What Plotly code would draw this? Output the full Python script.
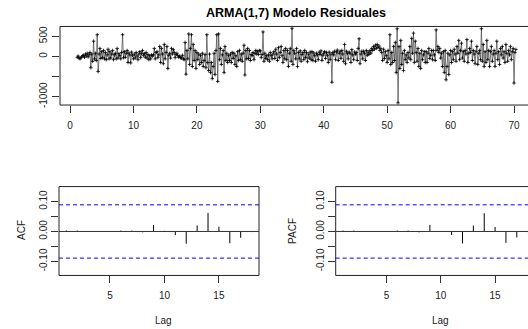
import plotly.graph_objects as go

# ---------------- data ----------------
start_time = 1 + 1/7
frequency = 7
residuals = [
    -20, 10, -40, -60, -30, -10, 20,
    30, -20, 60, 10, 80, -10, 40,
    100, -280, 60, -120, 380, -60, 80,
    -100, 540, -375, 60, 200, -50, 120,
    -30, 150, -60, 100, -80, 40, 180,
    -60, 120, -40, 60, 150, -80, 40,
    80, -60, 200, -40, 70, 20, -60,
    100, 540, -30, 120, -20, 80, 150,
    -150, 90, 40, -160, 110, 30, -60,
    60, -40, 100, 10, -80, 60, 120,
    -30, 80, 150, 30, 70, -20, 100,
    -40, 50, -80, 20, -60, 40, 10,
    40, 200, -60, 100, 120, -30, 40,
    250, -150, 200, 60, -180, 300, -60,
    100, 250, -300, 30, 80, -40, 200,
    60, 170, 100, -30, 50, 80, 20,
    -20, 10, -30, -40, 30, -60, -80,
    350, -440, 150, -60, 560, -200, 200,
    540, -250, 300, -100, 150, -300, 100,
    -80, 60, -200, 30, -150, 80, -250,
    -100, 50, -280, 540, -150, -350, 60,
    -400, -150, -550, -250, 80, -450, 150,
    540, -620, 560, -80, 200, -200, 40,
    150, -400, 250, -100, 80, -150, 30,
    -100, 60, -150, 100, -50, 80, -200,
    20, -250, 120, -100, 150, -80, 60,
    -120, 80, 280, -460, 150, -60, 200,
    -50, 150, -100, 50, 20, 100, -80,
    80, 150, 60, 130, 50, 150, 140,
    -30, 50, 610, -120, 80, -50, 20,
    -80, 40, -120, 100, 20, -60, 60,
    120, -50, 180, 60, -100, 220, -30,
    100, 250, 20, -150, 150, -60, 200,
    -80, 150, -250, 80, 200, -120, 700,
    -200, 150, 80, -60, 200, -250, 100,
    -60, 140, -120, 50, 100, -80, 150,
    -30, 100, -130, 60, -40, 110, -80,
    120, -100, 90, 20, -120, 80, 40,
    -80, 110, 50, 140, -100, 30, 80,
    120, -50, 100, 30, -150, 110, -80,
    60, -640, 100, 40, 130, -80, 110,
    160, -100, 80, 130, -50, 150, 60,
    -120, 300, -180, 130, 80, -60, 110,
    80, -150, 170, 40, -80, 110, 60,
    100, -100, 200, 440, -180, 60, 130,
    -60, 130, 80, -100, 150, 30, 110,
    50, 150, 80, 200, 150, 250, 180,
    280, 200, 300, 220, 260, 150, 200,
    100, -100, 180, -50, 120, 20, -150,
    150, -60, 540, -200, 100, -150, 250,
    -100, 350, -400, 690, -1150, 250, -300,
    400, -200, 80, -350, 150, -80, 40,
    -150, 100, -40, 250, -80, 450, 80,
    580, -150, 380, 100, -120, 200, -250,
    80, -300, 150, -80, 40, 120, -150,
    120, -150, 80, 200, -50, 30, 150,
    -80, 150, 40, -100, 660, 150, 250,
    100, 200, -40, 80, -250, 120, -400,
    150, -580, -250, 80, -450, 40, 150,
    -150, 120, -80, 180, 60, -120, 250,
    80, 400, -80, 150, 330, -40, 120,
    -120, 150, 60, 420, -150, 80, 200,
    100, 380, -100, 150, 60, -180, 120,
    250, -200, 80, 150, -80, 690, -120,
    300, -250, 120, -150, 400, -80, 150,
    -250, 120, 250, -120, 60, 150, -250,
    80, 380, -80, 120, -200, 200, 40,
    250, -40, 120, -150, 300, 80, -120,
    150, 40, 250, -80, 120, 200, -660,
    100, 175,
]
lags = list(range(1, 19))
acf_values = [0.003, 0.003, 0.001, 0.0, 0.0, 0.003, 0.003, -0.003, 0.022,
              0.002, -0.012, -0.041, 0.020, 0.062, 0.016, -0.039, -0.021, -0.002]
pacf_values = [0.003, 0.003, 0.001, 0.0, 0.0, 0.003, 0.003, -0.003, 0.022,
               0.0, -0.012, -0.040, 0.020, 0.061, 0.015, -0.038, -0.020, -0.002]
top_ticks = [0, 10, 20, 30, 40, 50, 60, 70]
top_yticks = [-1000, -500, 0, 500]
top_yticktext = ["-1000", "", "0", "500"]
cf_yticks = [-0.10, -0.05, 0.0, 0.05, 0.10]
cf_yticktext = ["-0.10", "", "0.00", "", "0.10"]
lag_ticks = [5, 10, 15]

N = len(residuals)
ci = 1.96 / N ** 0.5
times = [start_time + i / frequency for i in range(N)]

# ---------------- figure ----------------
W, H = 528, 329
def fx(p): return p / W
def fy(p): return 1 - p / H

FONT = "Liberation Sans, Arial, sans-serif"
fig = go.Figure()

fig.add_trace(go.Scatter(
    x=times, y=residuals, mode="lines+markers",
    line=dict(color="#444444", width=0.7),
    marker=dict(symbol="cross-thin", size=2.5, color="black",
                line=dict(width=0.8, color="black")),
    xaxis="x", yaxis="y", showlegend=False, hoverinfo="skip"))

def stems(lg, vals):
    xs, ys = [], []
    for l, v in zip(lg, vals):
        xs += [l, l, None]
        ys += [0, v, None]
    return xs, ys

ax, ay = stems(lags, acf_values)
fig.add_trace(go.Scatter(x=ax, y=ay, mode="lines",
                         line=dict(color="black", width=1),
                         xaxis="x2", yaxis="y2", showlegend=False, hoverinfo="skip"))
px_, py_ = stems(lags, pacf_values)
fig.add_trace(go.Scatter(x=px_, y=py_, mode="lines",
                         line=dict(color="black", width=1),
                         xaxis="x3", yaxis="y3", showlegend=False, hoverinfo="skip"))

axis_common = dict(showgrid=False, zeroline=False, showline=False,
                   ticks="outside", ticklen=7, tickwidth=1, tickcolor="#333333",
                   tickfont=dict(family=FONT, size=10, color="#222222"),
                   fixedrange=True)

top_y = [fy(106), fy(26.7)]
bot_y = [fy(278), fy(188.3)]

fig.update_layout(
    width=W, height=H, margin=dict(l=0, r=0, t=0, b=0),
    paper_bgcolor="white", plot_bgcolor="white",
    xaxis=dict(domain=[fx(60), 1], range=[-1.58, 72.2], tickvals=top_ticks,
               anchor="y", ticklabelstandoff=4, **axis_common),
    yaxis=dict(domain=top_y, range=[-1205, 745], tickvals=top_yticks,
               ticktext=top_yticktext, tickangle=-90, anchor="x",
               ticklabelstandoff=1, **axis_common),
    xaxis2=dict(domain=[fx(59), fx(259)], range=[0.32, 18.68], tickvals=lag_ticks,
                anchor="y2", ticklabelstandoff=4, **axis_common),
    yaxis2=dict(domain=bot_y, range=[-0.147, 0.150], tickvals=cf_yticks,
                ticktext=cf_yticktext, tickangle=-90, anchor="x2", **axis_common),
    xaxis3=dict(domain=[fx(335.7), 1], range=[0.33, 18.03], tickvals=lag_ticks,
                anchor="y3", ticklabelstandoff=4, **axis_common),
    yaxis3=dict(domain=bot_y, range=[-0.147, 0.150], tickvals=cf_yticks,
                ticktext=cf_yticktext, tickangle=-90, anchor="x3", **axis_common),
)

shapes = []
for x0, x1, (y0, y1) in [(fx(60), 1.1, top_y), (fx(59), fx(259), bot_y),
                         (fx(335.7), 1.1, bot_y)]:
    shapes.append(dict(type="rect", xref="paper", yref="paper", x0=x0, x1=x1,
                       y0=y0, y1=y1, line=dict(color="#222222", width=1),
                       fillcolor="rgba(0,0,0,0)"))
for xa, ya in [("x2", "y2"), ("x3", "y3")]:
    shapes.append(dict(type="line", xref=f"{xa} domain", yref=ya, x0=0, x1=1,
                       y0=0, y1=0, line=dict(color="#333333", width=1)))
    for v in (ci, -ci):
        shapes.append(dict(type="line", xref=f"{xa} domain", yref=ya, x0=0, x1=1,
                           y0=v, y1=v, line=dict(color="blue", width=1, dash="4px,3px")))
fig.update_layout(shapes=shapes)

ann = [
    dict(text="<b>ARMA(1,7) Modelo Residuales</b>", x=fx(296), y=fy(13),
         font=dict(family=FONT, size=12.5, color="black")),
    dict(text="ACF", x=fx(22), y=fy(232), textangle=-90,
         font=dict(family=FONT, size=10, color="#222222")),
    dict(text="PACF", x=fx(293), y=fy(233), textangle=-90,
         font=dict(family=FONT, size=10, color="#222222")),
    dict(text="Lag", x=fx(163), y=fy(323),
         font=dict(family=FONT, size=10, color="#222222")),
    dict(text="Lag", x=fx(440.7), y=fy(323),
         font=dict(family=FONT, size=10, color="#222222")),
]
for a in ann:
    a.update(xref="paper", yref="paper", showarrow=False,
             xanchor="center", yanchor="middle")
fig.update_layout(annotations=ann)

fig.write_html("out.html", config={"displayModeBar": False},
               post_script="document.body.style.margin='0';document.body.style.overflow='hidden';")
